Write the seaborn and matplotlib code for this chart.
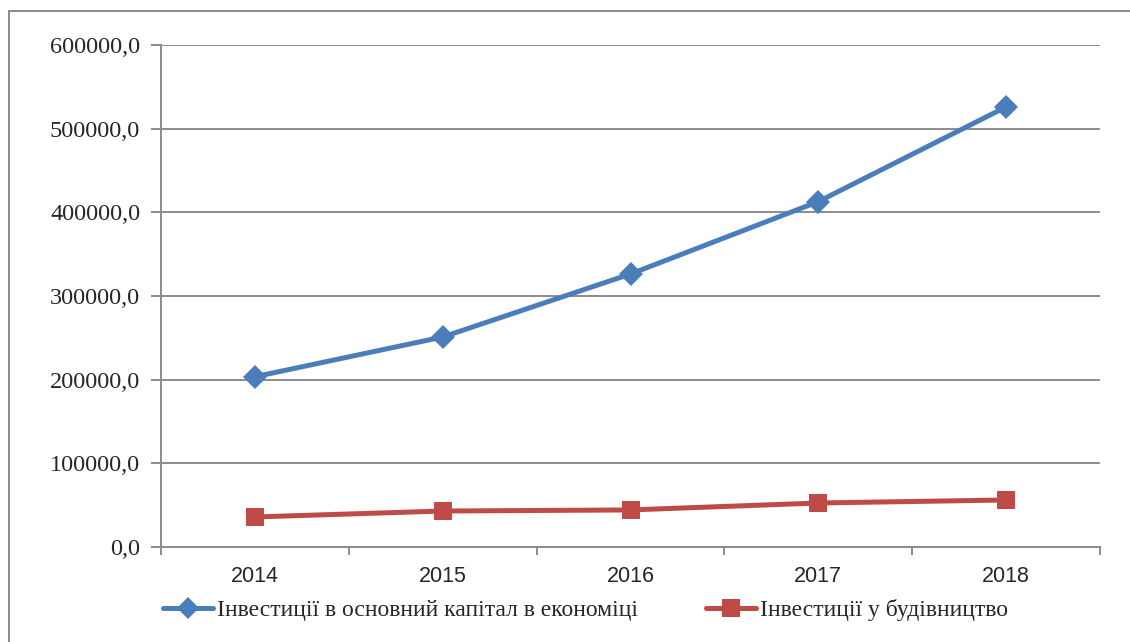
import numpy as np
import pandas as pd
import matplotlib
matplotlib.use("Agg")
import matplotlib.pyplot as plt
import seaborn as sns
from matplotlib.lines import Line2D
from matplotlib.patches import Rectangle
from matplotlib import ticker

years = ["2014", "2015", "2016", "2017", "2018"]
economy = [203500, 251000, 326300, 412800, 526000]
construction = [35900, 43000, 44300, 52600, 56200]
series_names = ["Інвестиції в основний капітал в економіці", "Інвестиції у будівництво"]
colors = ["#4A7EBB", "#BE4B48"]
markers = ["D", "s"]

sns.set_style("white")
plt.rcParams["font.family"] = ["Liberation Serif", "DejaVu Serif"]

data = pd.DataFrame({
    "pos": list(range(len(years))) * 2,
    "value": economy + construction,
    "series": [series_names[0]] * len(years) + [series_names[1]] * len(years),
})

fig = plt.figure(figsize=(11.3, 6.42), dpi=100)
ax = fig.add_axes([161 / 1130, 95 / 642, (1100 - 161) / 1130, (547 - 45) / 642])

for name, col, mk in zip(series_names, colors, markers):
    sub = data[data["series"] == name]
    sns.lineplot(ax=ax, data=sub, x="pos", y="value", color=col, linewidth=3.6,
                 marker=mk, markersize=12 if mk == "D" else 13, markeredgewidth=0,
                 legend=False)

ax.set_xlim(-0.5, len(years) - 0.5)
ax.set_ylim(0, 600000)
ax.set_yticks(np.arange(0, 600001, 100000))
ax.yaxis.set_major_formatter(ticker.FuncFormatter(lambda v, p: f"{v:.1f}".replace(".", ",")))
ax.grid(axis="y", color="#8c8c8c", linewidth=1.4)
ax.set_axisbelow(True)

# category boundaries as tick marks, labels at centres
ax.set_xticks(np.arange(-0.5, len(years), 1.0))
ax.set_xticklabels([])
ax.set_xticks(range(len(years)), minor=True)
ax.set_xticklabels(years, minor=True, family=["Liberation Sans", "DejaVu Sans"], fontsize=15.5)
ax.tick_params(axis="x", which="major", length=6, width=1.4, color="#8c8c8c", direction="out", bottom=True)
ax.tick_params(axis="x", which="minor", length=0, pad=14)
ax.tick_params(axis="y", length=7, width=1.4, color="#8c8c8c", direction="out", left=True, labelsize=17.5, pad=8)
ax.set_xlabel("")
ax.set_ylabel("")

for side in ["top", "right"]:
    ax.spines[side].set_visible(False)
for side in ["left", "bottom"]:
    ax.spines[side].set_color("#8c8c8c")
    ax.spines[side].set_linewidth(1.4)

handles = [Line2D([], [], color=c, linewidth=3.6, marker=m, markersize=11 if m == "D" else 13,
                  markeredgewidth=0) for c, m in zip(colors, markers)]
fig.legend(handles, series_names, loc="center left", bbox_to_anchor=(163 / 1130, 1 - 610 / 642),
           ncol=2, frameon=False, fontsize=17, handlelength=2.1, handletextpad=0.17,
           columnspacing=2.9, borderpad=0, borderaxespad=0)

fig.add_artist(Rectangle((9 / 1130, -0.1), 1.2, 1.1 - 11 / 642, transform=fig.transFigure,
                         fill=False, edgecolor="#8c8c8c", linewidth=1.4))

fig.savefig("out.png", dpi=100)
